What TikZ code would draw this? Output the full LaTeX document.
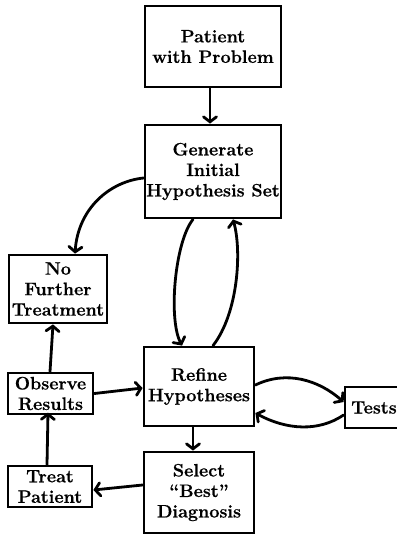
\documentclass[tikz,border=0pt]{standalone}
\usepackage{fontspec}
\newfontfamily\boxfont{Latin Modern Roman}[Ligatures=TeX,BoldFeatures={FakeBold=0.6}]
\usetikzlibrary{arrows.meta,calc}
\begin{document}
\begin{tikzpicture}[x=1pt,y=-1pt,
  box/.style={draw,line width=2.8pt,inner sep=0pt,align=center,
    font=\boxfont\fontsize{18}{20.5}\selectfont\bfseries},
  conn/.style={line width=2.8pt,line cap=round,-{Straight Barb[length=5pt,width=13pt,line cap=round]}}]
\useasboundingbox (0,0) rectangle (396,534);
\node[box,minimum width=136pt,minimum height=81pt] (pat) at (213,46.5) {Patient\\with Problem};
\node[box,minimum width=136pt,minimum height=93pt] (gen) at (213,171.5) {Generate\\Initial\\Hypothesis Set};
\node[box,minimum width=98pt,minimum height=68pt] (nft) at (58,289) {No\\Further\\Treatment};
\node[box,minimum width=85pt,minimum height=41pt] (obs) at (50.5,393.5) {Observe\\Results};
\node[box,minimum width=110pt,minimum height=79pt] (ref) at (199,386.5) {Refine\\Hypotheses};
\node[box,minimum width=58pt,minimum height=41pt] (tests) at (374,407.5) {Tests};
\node[box,minimum width=110pt,minimum height=81pt] (sel) at (199,492.5) {Select\\“Best”\\Diagnosis};
\node[box,minimum width=84pt,minimum height=41pt] (treat) at (50,486.5) {Treat\\Patient};
% connectors
\draw[conn] ($(pat.south)+(-3,0)$) -- ($(gen.north)+(-3,0)$);
\draw[conn] ($(gen.west)+(0,6.5)$) .. controls ($(gen.west)+(-34,10)$) and ($(nft.north)+(20,-45)$) .. ($(nft.north)+(17,0)$);
\draw[conn] ($(gen.south)+(-20,0)$) .. controls ($(gen.south)+(-38,22)$) and ($(ref.north)+(-31,-27)$) .. ($(ref.north)+(-17,0)$);
\draw[conn] ($(ref.north)+(14,0)$) .. controls ($(ref.north)+(39,-32)$) and ($(gen.south)+(29,32)$) .. ($(gen.south)+(20,0)$);
\draw[conn] ($(ref.east)+(0,-1.5)$) .. controls ($(ref.east)+(31,-16.5)$) and ($(tests.west)+(-25,-27.5)$) .. ($(tests.west)+(0,-5.5)$);
\draw[conn] ($(tests.west)+(0,7.5)$) .. controls ($(tests.west)+(-25,24.5)$) and ($(ref.east)+(31,43.5)$) .. ($(ref.east)+(0,26.5)$);
\draw[conn] ($(ref.south)+(-6,0)$) -- ($(sel.north)+(-6,0)$);
\draw[conn] ($(sel.west)+(0,-7.5)$) -- ($(treat.east)+(0,3.5)$);
\draw[conn] ($(treat.north)+(-3,0)$) -- ($(obs.north)+(-2.5,41)$);
\draw[conn] ($(obs.north)+(-0.5,0)$) -- ($(nft.south)+(-5,0)$);
\draw[conn] (obs.east) -- ($(ref.west)+(0,1.5)$);
\end{tikzpicture}
\end{document}
